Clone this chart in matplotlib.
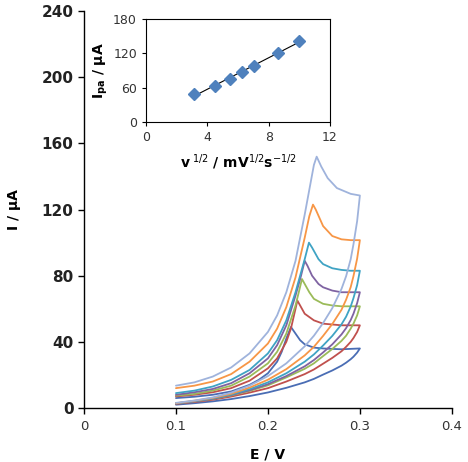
import numpy as np
import matplotlib
matplotlib.use("Agg")
import matplotlib.pyplot as plt

# --- CV curves: forward scan (E, I) then reverse scan on E_r ---
E_r = [0.30, 0.297, 0.293, 0.29, 0.285, 0.28, 0.27, 0.26, 0.25, 0.24, 0.22, 0.20, 0.18, 0.16, 0.14, 0.12, 0.10]

blue_E = [0.10, 0.12, 0.14, 0.16, 0.18, 0.19, 0.20, 0.21, 0.215, 0.22, 0.225, 0.23, 0.235, 0.24, 0.25, 0.26, 0.28, 0.30]
blue_I = [6, 6.8, 8, 10, 14, 17, 21, 28, 34, 42, 49, 45, 41, 38.5, 36.5, 36, 35.5, 36]
blue_rev = [36, 33.5, 31, 29.5, 27.4, 25.6, 22.7, 20.2, 17.6, 15.5, 12.2, 9.4, 7.2, 5.4, 4, 2.9, 2]

red_E = [0.10, 0.12, 0.14, 0.16, 0.18, 0.20, 0.21, 0.22, 0.225, 0.23, 0.232, 0.236, 0.24, 0.25, 0.26, 0.27, 0.28, 0.30]
red_I = [7, 8, 9.5, 12, 16.5, 24, 30, 40, 48, 60, 65, 61, 57, 53, 51, 50.5, 50, 50]
red_rev = [50, 46, 42.3, 40, 37, 34.3, 30.3, 26.8, 23.3, 20.5, 16, 12, 9.3, 6.9, 5, 3.6, 2.5]

green_E = [0.10, 0.12, 0.14, 0.16, 0.18, 0.20, 0.21, 0.22, 0.23, 0.234, 0.237, 0.24, 0.245, 0.25, 0.26, 0.27, 0.28, 0.30]
green_I = [7.5, 8.5, 10.5, 13.5, 19, 27, 34, 45, 62, 71, 78, 75, 70, 66, 63, 62, 61.5, 61.5]
green_rev = [61.5, 56, 51, 48, 43.7, 40.6, 35.7, 31.4, 27, 23.7, 18.5, 13.7, 10.3, 7.6, 5.5, 4, 2.8]

purple_E = [0.10, 0.12, 0.14, 0.16, 0.18, 0.20, 0.21, 0.22, 0.23, 0.236, 0.24, 0.243, 0.248, 0.255, 0.26, 0.27, 0.28, 0.30]
purple_I = [8, 9.5, 11.5, 15, 21, 30, 38, 50, 68, 80, 89, 86, 80, 75, 73, 71, 70, 70]
purple_rev = [70, 63.4, 57, 53.2, 48.3, 44.5, 38.5, 33.6, 29, 25.2, 19.3, 14.4, 10.7, 7.8, 5.6, 4, 2.8]

teal_E = [0.10, 0.12, 0.14, 0.16, 0.18, 0.20, 0.21, 0.22, 0.23, 0.24, 0.2446, 0.248, 0.255, 0.26, 0.27, 0.28, 0.29, 0.30]
teal_I = [9, 10.5, 13, 17, 23, 33, 41, 53, 70, 90, 100, 97, 90, 87, 84.5, 83.5, 83, 83]
teal_rev = [83, 74.3, 66.4, 61.4, 55.2, 50.6, 43.6, 37.8, 32.4, 28, 21, 15.5, 11.4, 8.1, 5.8, 4.2, 2.8]

orange_E = [0.10, 0.12, 0.14, 0.16, 0.18, 0.20, 0.21, 0.22, 0.23, 0.24, 0.245, 0.249, 0.252, 0.26, 0.27, 0.28, 0.29, 0.30]
orange_I = [12, 13.5, 16, 20.5, 28, 39, 48, 61, 79, 103, 116, 123, 120, 110, 104, 102, 101.5, 101.5]
orange_rev = [101.5, 90.3, 79.7, 73.1, 65.5, 59.4, 50.8, 43.6, 37, 31.8, 23.5, 17.1, 12.3, 8.6, 6.1, 4.4, 2.9]

lblue_E = [0.10, 0.12, 0.14, 0.16, 0.18, 0.20, 0.21, 0.22, 0.23, 0.24, 0.245, 0.25, 0.253, 0.258, 0.265, 0.275, 0.29, 0.30]
lblue_I = [13.5, 15.5, 19, 24.5, 33, 46, 56, 70, 89, 117, 132, 147, 152, 146, 139, 133, 129.5, 128.5]
lblue_rev = [128.5, 113, 99, 90, 79.7, 72, 60.4, 51.4, 43.7, 37.3, 27, 19.3, 13.5, 9.3, 6.4, 4.5, 3.1]

# --- inset: peak current vs sqrt(scan rate) ---
sqrt_v = [3.16, 4.47, 5.45, 6.29, 7.05, 8.61, 10.0]
Ipa = [49.7, 62.5, 74.8, 86.5, 97.6, 121, 142]

curves = [
    (blue_E, blue_I, blue_rev, '#4a6db4'),
    (red_E, red_I, red_rev, '#c0504d'),
    (green_E, green_I, green_rev, '#9bbb59'),
    (purple_E, purple_I, purple_rev, '#7f63a2'),
    (teal_E, teal_I, teal_rev, '#3fa3c4'),
    (orange_E, orange_I, orange_rev, '#f79646'),
    (lblue_E, lblue_I, lblue_rev, '#9fb3dc'),
]

fig = plt.figure(figsize=(4.68, 4.62), dpi=100)
ax = fig.add_axes([0.1795, 0.1169, 0.786, 0.859])

for E_f, I_f, I_b, col in curves:
    ax.plot(list(E_f) + E_r, list(I_f) + I_b, color=col, lw=1.3,
            solid_joinstyle='round', solid_capstyle='round')

ax.set_xlim(0, 0.4)
ax.set_ylim(0, 240)
ax.set_xticks([0, 0.1, 0.2, 0.3, 0.4])
ax.set_xticklabels(['0', '0.1', '0.2', '0.3', '0.4'])
ax.set_yticks(range(0, 241, 40))
for s in ['top', 'right']:
    ax.spines[s].set_visible(False)
for s in ['left', 'bottom']:
    ax.spines[s].set_linewidth(1.0)
ax.tick_params(direction='out', length=4, width=1.0)
ax.tick_params(axis='x', labelsize=9.5, colors='black', labelcolor='#333333', pad=5)
for lbl in ax.get_yticklabels():
    lbl.set_fontfamily('Liberation Sans Narrow')
    lbl.set_fontweight('bold')
    lbl.set_fontsize(11)
    lbl.set_color('#222222')
ax.set_xlabel('E / V', fontsize=10, fontweight='bold', labelpad=10)
ax.set_ylabel('I / µA', fontsize=10, fontweight='bold')
ax.yaxis.set_label_coords(-0.17, 0.5)

# inset
axi = fig.add_axes([0.312, 0.736, 0.393, 0.223])
fit = np.polyfit(sqrt_v, Ipa, 1)
xs = np.array([sqrt_v[0], sqrt_v[-1]])
axi.plot(xs, np.polyval(fit, xs), color='black', lw=0.8)
axi.plot(sqrt_v, Ipa, linestyle='none', marker='D', markersize=6.5,
         color='#4f81bd', markeredgecolor='#4f81bd')
axi.set_xlim(0, 12)
axi.set_ylim(0, 180)
axi.set_xticks([0, 4, 8, 12])
axi.set_yticks([0, 60, 120, 180])
for s in axi.spines.values():
    s.set_linewidth(0.8)
axi.tick_params(direction='out', length=3, width=0.8, labelsize=9, labelcolor='#333333')
axi.set_xlabel('v$^{\\ 1/2}$ / mV$^{1/2}$s$^{-1/2}$', fontsize=10, fontweight='bold', labelpad=6)
axi.set_ylabel('I$_{\\mathregular{pa}}$ / µA', fontsize=10, fontweight='bold', labelpad=2)

fig.savefig('out.png', dpi=100)
